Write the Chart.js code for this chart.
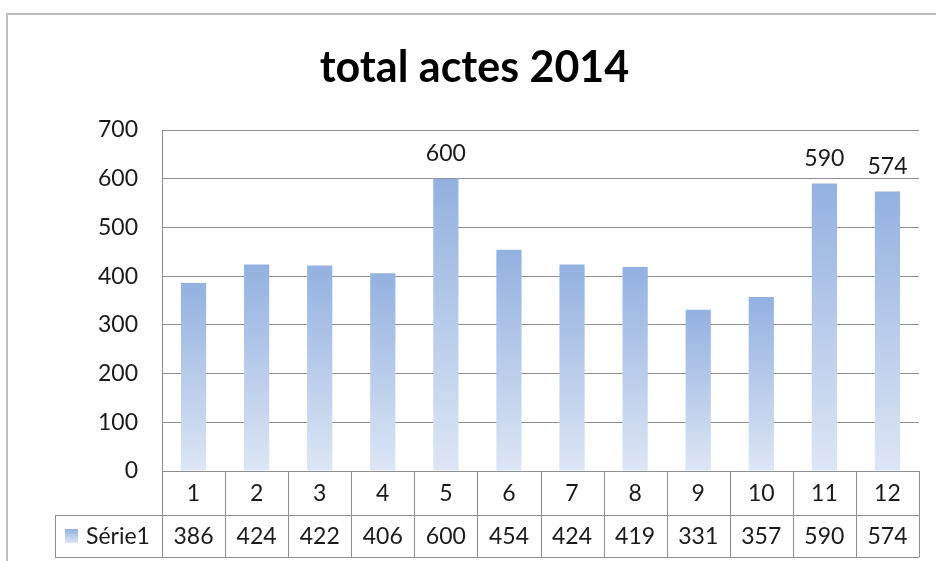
<!DOCTYPE html>
<html>
<head>
<meta charset="utf-8">
<title>total actes 2014</title>
<script src="https://cdn.jsdelivr.net/npm/chart.js@4/dist/chart.umd.min.js"></script>
<style>
  html, body { margin: 0; padding: 0; background: #fff; }
  body { width: 936px; height: 561px; position: relative; overflow: hidden; }
  #frame {
    position: absolute; left: 6px; top: 13px; width: 960px; height: 600px;
    border-top: 2px solid #bdbdbd; border-left: 2px solid #bdbdbd;
    pointer-events: none;
  }
  #chart { position: absolute; left: 0; top: 0; }
</style>
</head>
<body>
<canvas id="chart" width="936" height="561"></canvas>
<div id="frame"></div>
<script>
const TITLE = 'total actes 2014';
const SERIES_NAME = 'Série1';
const months = ['1', '2', '3', '4', '5', '6', '7', '8', '9', '10', '11', '12'];
const actes = [386, 424, 422, 406, 600, 454, 424, 419, 331, 357, 590, 574];
// only these bars carry a value label above them in the original
const labelled = [false, false, false, false, true, false, false, false, false, false, true, true];

const FONT = 'Lato, "Open Sans", sans-serif';
const GRID = '#8e8e8e';
const TEXT = '#1a1a1a';
const BAR_TOP = '#93b1e0';
const BAR_BOTTOM = '#dde6f5';

const TABLE_H = 86;
const ROW1_H = 44;

function barFill(c) {
  const chart = c.chart;
  if (!chart.chartArea || c.type !== 'data') return BAR_TOP;
  const y = chart.scales.y;
  const top = y.getPixelForValue(c.parsed.y);
  const base = y.getPixelForValue(0);
  const g = chart.ctx.createLinearGradient(0, top, 0, base);
  g.addColorStop(0, BAR_TOP);
  g.addColorStop(1, BAR_BOTTOM);
  return g;
}

const valueLabels = {
  id: 'valueLabels',
  afterDatasetsDraw(chart) {
    const ctx = chart.ctx;
    const meta = chart.getDatasetMeta(0);
    ctx.save();
    ctx.font = '23px ' + FONT;
    ctx.fillStyle = TEXT;
    ctx.textAlign = 'center';
    ctx.textBaseline = 'middle';
    meta.data.forEach((bar, i) => {
      if (!labelled[i]) return;
      ctx.fillText(String(actes[i]), bar.x, bar.y - 25);
    });
    ctx.restore();
  },
};

const dataTable = {
  id: 'dataTable',
  afterDraw(chart) {
    const ctx = chart.ctx;
    const x = chart.scales.x;
    const top = chart.chartArea.bottom;
    const mid = top + ROW1_H;
    const bottom = top + TABLE_H;
    const left = x.left;
    const right = x.right;
    const step = (right - left) / months.length;
    const keyLeft = 55;

    ctx.save();
    ctx.strokeStyle = GRID;
    ctx.lineWidth = 1;
    ctx.beginPath();
    // horizontal rules
    ctx.moveTo(keyLeft, mid + 0.5); ctx.lineTo(right, mid + 0.5);
    ctx.moveTo(keyLeft, bottom + 0.5); ctx.lineTo(right + 0.5, bottom + 0.5);
    // vertical rules
    for (let i = 0; i <= months.length; i++) {
      const px = Math.round(left + i * step) + 0.5;
      ctx.moveTo(px, top); ctx.lineTo(px, bottom);
    }
    ctx.moveTo(keyLeft + 0.5, mid); ctx.lineTo(keyLeft + 0.5, bottom);
    ctx.stroke();

    ctx.font = '23px ' + FONT;
    ctx.fillStyle = TEXT;
    ctx.textAlign = 'center';
    ctx.textBaseline = 'middle';
    months.forEach((m, i) => {
      const cx = x.getPixelForValue(i);
      ctx.fillText(m, cx, top + ROW1_H / 2 + 1);
      ctx.fillText(String(actes[i]), cx, mid + (TABLE_H - ROW1_H) / 2 + 1);
    });

    // legend key + series name
    const ky = mid + (TABLE_H - ROW1_H) / 2;
    const g = ctx.createLinearGradient(0, ky - 7, 0, ky + 7);
    g.addColorStop(0, BAR_TOP);
    g.addColorStop(1, BAR_BOTTOM);
    ctx.fillStyle = g;
    ctx.fillRect(65, ky - 7, 13, 14);
    ctx.fillStyle = TEXT;
    ctx.textAlign = 'left';
    ctx.fillText(SERIES_NAME, 86, ky + 1);
    ctx.restore();
  },
};

new Chart(document.getElementById('chart'), {
  type: 'bar',
  data: {
    labels: months,
    datasets: [{
      label: SERIES_NAME,
      data: actes,
      backgroundColor: barFill,
      borderWidth: 0,
      categoryPercentage: 1,
      barPercentage: 0.4,
    }],
  },
  options: {
    responsive: false,
    animation: false,
    layout: { padding: { top: 14, right: 17, bottom: 4, left: 30 } },
    scales: {
      x: {
        grid: { display: false },
        ticks: { display: false },
        border: { display: true, color: GRID },
        afterFit(scale) { scale.height = TABLE_H; },
      },
      y: {
        min: 0,
        max: 700,
        ticks: { stepSize: 100, color: TEXT, font: { family: FONT, size: 23 }, padding: 24 },
        grid: { color: GRID, drawTicks: false },
        border: { display: true, color: GRID },
        afterFit(scale) { scale.width = 132; },
      },
    },
    plugins: {
      legend: { display: false },
      tooltip: { enabled: false },
      title: {
        display: true,
        text: TITLE,
        color: '#000',
        font: { family: FONT, size: 43, weight: 'bold' },
        padding: { top: 28, bottom: 36.4 },
      },
    },
  },
  plugins: [valueLabels, dataTable],
});
</script>
</body>
</html>
